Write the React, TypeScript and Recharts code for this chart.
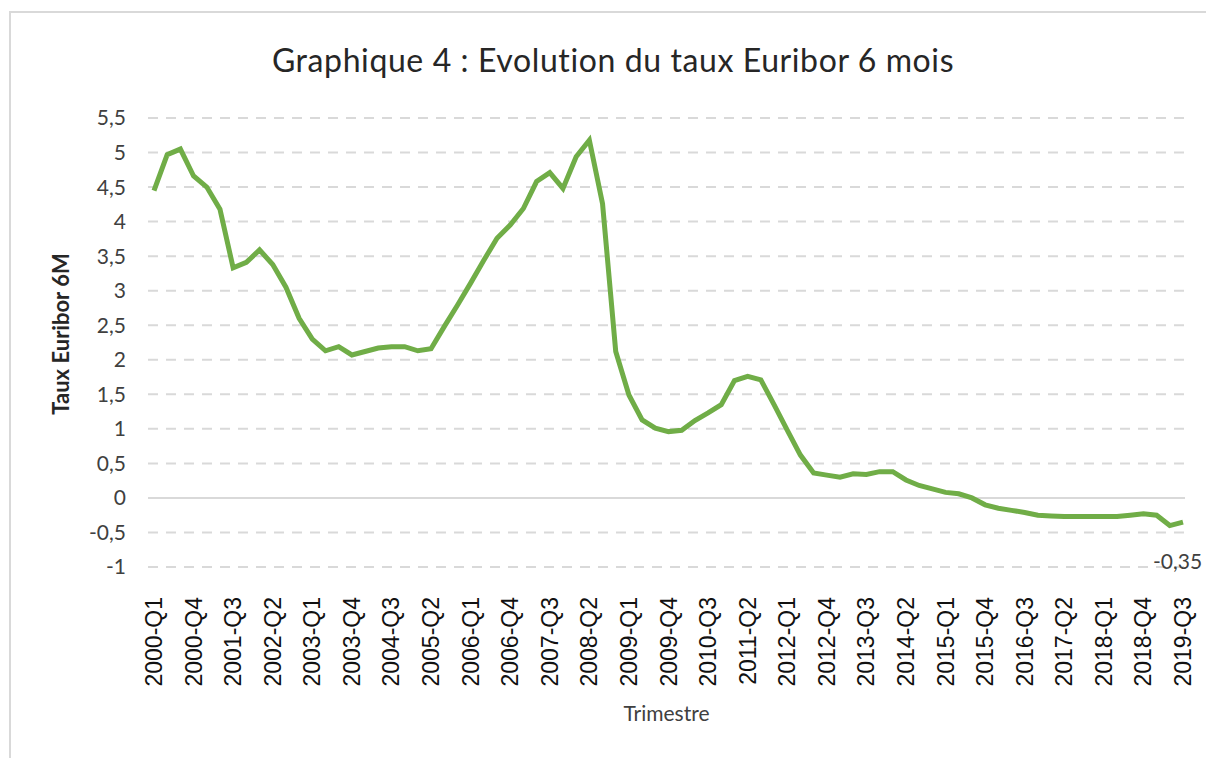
import { LineChart, Line, XAxis, YAxis, CartesianGrid, ReferenceLine, Label } from 'recharts';

const years = [
  2000, 2001, 2002, 2003, 2004, 2005, 2006, 2007, 2008, 2009,
  2010, 2011, 2012, 2013, 2014, 2015, 2016, 2017, 2018, 2019,
];
const quarters = ['Q1', 'Q2', 'Q3', 'Q4'];

// Euribor 6M, one value per quarter from 2000-Q1 to 2019-Q3
const euribor6m = [
  4.45, 4.97, 5.05, 4.66, 4.5, 4.18, 3.33, 3.41, 3.59, 3.38,
  3.05, 2.6, 2.3, 2.13, 2.19, 2.07, 2.12, 2.17, 2.19, 2.19,
  2.13, 2.16, 2.48, 2.79, 3.11, 3.44, 3.76, 3.95, 4.19, 4.58,
  4.71, 4.48, 4.94, 5.18, 4.26, 2.12, 1.49, 1.13, 1.01, 0.96,
  0.98, 1.12, 1.23, 1.35, 1.7, 1.76, 1.71, 1.35, 0.98, 0.62,
  0.36, 0.33, 0.3, 0.35, 0.34, 0.38, 0.38, 0.26, 0.18, 0.13,
  0.08, 0.06, 0.0, -0.1, -0.15, -0.18, -0.21, -0.25, -0.26, -0.27,
  -0.27, -0.27, -0.27, -0.27, -0.25, -0.23, -0.25, -0.4, -0.35,
];

const yTicks = [-1, -0.5, 0, 0.5, 1, 1.5, 2, 2.5, 3, 3.5, 4, 4.5, 5, 5.5];

const periods = years.flatMap((y) => quarters.map((q) => `${y}-${q}`));
const data = euribor6m.map((v, i) => ({ periode: periods[i], taux: v }));

const fmt = (v: number) => String(v).replace('.', ',');

const XTick = (props: any) => {
  const { x, y, payload } = props;
  const ty = y + 22;
  return (
    <text
      x={x}
      y={ty}
      transform={`rotate(-90 ${x} ${ty})`}
      textAnchor="end"
      dominantBaseline="central"
      fontFamily="'Liberation Sans', Arial, sans-serif"
      fontSize={23}
      fill="#111"
    >
      {payload.value}
    </text>
  );
};

const lastLabel = (props: any) => {
  const { x, y, index, value } = props;
  if (index !== data.length - 1) return null;
  return (
    <text
      x={x - 30}
      y={y + 47}
      fontFamily="Lato, 'Open Sans', sans-serif"
      fontSize={21}
      fill="#404040"
    >
      {fmt(value)}
    </text>
  );
};

export default function App() {
  return (
    <div
      style={{
        position: 'absolute',
        left: 0,
        top: 0,
        width: 1206,
        height: 758,
        overflow: 'hidden',
        background: '#fff',
      }}
    >
      <div
        style={{
          position: 'absolute',
          left: 9,
          top: 11,
          width: 1206,
          height: 758,
          borderLeft: '2px solid #d9d9d9',
          borderTop: '2px solid #d9d9d9',
        }}
      />
      <div
        style={{
          position: 'absolute',
          left: 0,
          top: 40,
          width: 1226,
          textAlign: 'center',
          fontFamily: 'Lato, sans-serif',
          fontSize: 32,
          letterSpacing: 0.6,
          color: '#262626',
        }}
      >
        Graphique 4 : Evolution du taux Euribor 6 mois
      </div>
      <div
        style={{
          position: 'absolute',
          left: 60,
          top: 334,
          transform: 'translate(-50%, -50%) rotate(-90deg)',
          whiteSpace: 'nowrap',
          fontFamily: 'Lato, sans-serif',
          fontSize: 22,
          fontWeight: 700,
          color: '#262626',
        }}
      >
        Taux Euribor 6M
      </div>
      <LineChart
        width={1206}
        height={758}
        data={data}
        margin={{ top: 118, right: 21, bottom: 21, left: 40 }}
        style={{ position: 'absolute', left: 0, top: 0 }}
      >
        <CartesianGrid vertical={false} stroke="#d9d9d9" strokeWidth={2} strokeDasharray="10 8" />
        <ReferenceLine y={0} stroke="#d9d9d9" strokeWidth={2} />
        <XAxis
          dataKey="periode"
          interval={2}
          tick={<XTick />}
          tickLine={false}
          axisLine={false}
          height={170}
          padding={{ left: 6, right: 2 }}
        >
          <Label
            value="Trimestre"
            position="insideBottom"
            offset={16}
            style={{ fontFamily: 'Lato, sans-serif', fontSize: 21, fill: '#404040' }}
          />
        </XAxis>
        <YAxis
          domain={[-1, 5.5]}
          ticks={yTicks}
          tickFormatter={fmt}
          interval={0}
          width={108}
          tickLine={false}
          axisLine={false}
          tickMargin={16}
          tick={{ fontFamily: 'Lato, sans-serif', fontSize: 21, fill: '#404040' }}
        />
        <Line
          type="linear"
          dataKey="taux"
          stroke="#70ad47"
          strokeWidth={5}
          dot={false}
          label={lastLabel}
          isAnimationActive={false}
        />
      </LineChart>
    </div>
  );
}
